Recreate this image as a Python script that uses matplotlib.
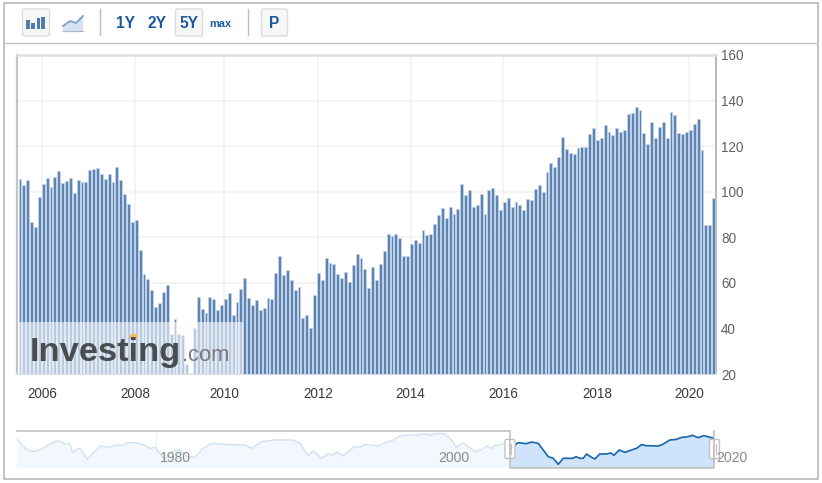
import numpy as np
import matplotlib
matplotlib.use("Agg")
import matplotlib.pyplot as plt
from matplotlib.patches import Rectangle, FancyBboxPatch, Ellipse, Polygon

plt.rcParams['font.family'] = ['Liberation Sans', 'DejaVu Sans']

values = [105.4, 102.8, 105, 86.8, 84.6, 97.8, 103.2, 106, 102.2, 106.6, 109.2, 103.8, 104.9, 106, 99.4, 105,
          104.4, 104.4, 109.6, 109.8, 110.6, 107.8, 105.4, 107.8, 104.4, 111, 105, 99, 94.6, 86.8, 87.4, 74.4,
          63.8, 61.5, 56.7, 49.5, 51.3, 56.1, 58.9, 37.5, 44, 37.5, 37, 24.4, 20, 40.3,
          53.9, 48.4, 46.9, 53.9, 52.9, 48, 50.3, 52.9, 55.7, 45.9, 51.7, 57.3, 62.3, 53.5,
          50.3, 52.3, 47.9, 49.1, 53.5, 52.9, 64.5, 71.6, 63.3, 65.5, 61.1, 56.7, 58.3, 44.7, 45.8, 40.3, 54.5,
          64.5, 61.1, 71, 68.8, 68.1, 63.9, 62.3, 64.9, 60.5, 67.7,
          72.7, 71, 66.1, 57.9, 67.1, 61.1, 68.3, 73.8, 81.4, 80.4,
          81.4, 79.8, 71.6, 71.6, 77, 78.6, 77.6, 83, 80.9, 81.4,
          85.8, 89.6, 93, 88.6, 93.4, 90.2, 92.4, 103.2, 98.4, 100.6, 93.4, 94,
          98.8, 90.2, 100.7, 101.7, 98.4, 91.8, 95.6, 97.2,
          93.4, 95.6, 94, 91.8, 96.8, 96.2, 101.2, 102.8, 100, 108.8,
          112.6, 111, 115.4, 124.1, 118.6, 117, 116.5, 119.2, 119.7, 119.7,
          125.3, 128, 122.5, 123.5, 129.1, 126.3, 124.7, 128, 126.3, 127.3,
          134.1, 134.5, 137.3, 135.7, 125.7, 120.9, 130.7, 123.5, 128.5, 130.7,
          123.5, 135.1, 133.5, 125.7, 125.3, 126.3, 127.3, 129.7, 131.9, 118.2, 85.2, 85.2, 97.2]
year_labels = ['2006', '2008', '2010', '2012', '2014', '2016', '2018', '2020']
year_ticks = [5.68, 29.68, 52.65, 76.9, 100.8, 124.6, 148.9, 172.6]
y_ticks = [20, 40, 60, 80, 100, 120, 140, 160]

nav_years = [1970.06, 1970.49, 1970.97, 1971.32, 1971.8, 1972.4, 1973.0, 1973.48, 1973.84, 1974.03, 1974.44, 1974.68,
             1975.08, 1975.63, 1976.07, 1976.71, 1977.07, 1977.55, 1978.03, 1978.63, 1979.23, 1979.59, 1979.95,
             1980.31, 1980.67, 1981.26, 1981.74, 1982.22, 1982.82, 1983.42, 1984.02, 1984.62, 1985.57, 1986.41,
             1986.89, 1987.61, 1988.45, 1989.89, 1990.37, 1990.96, 1991.32, 1991.92, 1992.4, 1992.76, 1993.0,
             1993.48, 1994.2, 1994.79, 1995.03, 1996.0, 1996.35, 1997.07, 1997.55, 1998.27, 1998.87, 1999.23,
             1999.83, 2000.31, 2000.78, 2001.26, 2001.62, 2002.1, 2002.46, 2002.94, 2003.42, 2003.78, 2004.14,
             2004.38, 2004.74, 2005.1, 2005.46, 2005.81, 2006.05, 2006.65, 2007.01, 2007.49, 2007.85, 2008.21,
             2008.57, 2008.93, 2009.29, 2009.65, 2010.0, 2010.2, 2010.48, 2010.72, 2010.96, 2011.32, 2011.56,
             2011.92, 2012.4, 2012.71, 2012.93, 2013.31, 2013.72, 2014.2, 2014.56, 2014.91, 2015.27, 2016.11,
             2016.35, 2016.95, 2017.43, 2017.79, 2018.15, 2018.58, 2018.98, 2019.39, 2019.94]
nav_values = [120.1, 91.5, 73.4, 73.4, 81.2, 102, 115, 102, 102, 68.2, 85.1, 78.6,
              42.2, 72.1, 94.1, 89, 96.7, 96.7, 107.1, 107.1, 96.7, 85.1, 89,
              65.6, 42.2, 76, 78.6, 52.6, 50, 85.1, 104.5, 102, 99.3, 98,
              85.1, 111, 117.5, 117.5, 104.5, 56.5, 76, 46.1, 63, 59.1, 70.8,
              55.2, 89, 91.5, 100.6, 94.1, 104.5, 117.5, 133, 138, 137, 141,
              137, 143.5, 141, 117.5, 89, 107.1, 91.5, 72.1, 78.6, 94.1, 85.1,
              98, 98, 107.1, 107.1, 98, 107.1, 103.2, 109.7, 104.5, 78.6, 52.6,
              46.1, 22.7, 46.1, 46.1, 46.1, 52.6, 46.1, 46.1, 63, 50, 43.5,
              63, 63, 66.9, 57.8, 78.6, 69.5, 78.6, 85.1, 99.3, 95.4, 94.1,
              98, 117.5, 120.1, 127.9, 129.2, 135.7, 126.6, 134.4, 126.6]
nav_tick_years = [1980, 2000, 2020]
nav_sel_start = 2005.46

W, H = 822, 483
fig = plt.figure(figsize=(W / 100, H / 100), dpi=100, facecolor='white')


def pxbox(x0, y0, x1, y1):
    return [x0 / W, 1 - y1 / H, (x1 - x0) / W, (y1 - y0) / H]


def pt(px):
    return px * 0.72


# main chart -------------------------------------------------------------
PL, PR, PT, PB = 17, 715.5, 55, 374
step = 3.875
ax = fig.add_axes(pxbox(PL, PT, PR, PB), zorder=1)
ax.set_xlim((PL - 20) / step, (PR - 20) / step)
ax.set_ylim(20, 160)
ax.bar(np.arange(len(values)), np.array(values) - 20, bottom=20, width=0.76, color='#5c85b3',
       edgecolor='#c6d4e7', linewidth=0.55, zorder=3)
ax.set_axisbelow(True)
ax.grid(True, color='#f1f1f1', linewidth=1.1)
ax.yaxis.tick_right()
ax.set_yticks(y_ticks)
ax.set_xticks(year_ticks)
ax.set_xticklabels(year_labels)
ax.tick_params(axis='both', length=0)
ax.tick_params(axis='x', labelsize=pt(13.5), labelcolor='#3a3a3a', pad=pt(13))
ax.tick_params(axis='y', labelsize=pt(13.5), labelcolor='#606060', pad=pt(5.5))
for name, col, lw in [('left', '#c4c4c4', 1.6), ('top', '#dedede', 1.8), ('right', '#adadad', 1.2), ('bottom', '#d6deea', 1.4)]:
    ax.spines[name].set_color(col)
    ax.spines[name].set_linewidth(lw)

# navigator --------------------------------------------------------------
NL, NR, NT, NB = 17, 714, 430, 467.5
nx = fig.add_axes(pxbox(NL, NT, NR, NB), zorder=1)
nx.set_xlim(1970.04, 2020.12)
nx.set_ylim(24 + (464 - NB) / 0.2566, 24 + (464 - NT) / 0.2566)
ny = np.array(nav_years)
nv = np.array(nav_values)
bot = nx.get_ylim()[0]
nx.fill_between(ny, nv, bot, color='#f3f8fe', linewidth=0)
nx.plot(ny, nv, color='#cfe1f1', lw=1.0)
mask = ny >= nav_sel_start
nx.fill_between(ny[mask], nv[mask], bot, color='#cfe3fb', linewidth=0)
nx.fill_between([ny[-1], 2020.12], [nv[-1], nv[-1] - 2], bot, color='#cfe3fb', linewidth=0)
nx.plot(list(ny[mask]) + [2020.12], list(nv[mask]) + [nv[-1] - 2], color='#1a66b0', lw=1.2)
for yr in nav_tick_years:
    nx.axvline(yr, color='#efefef', lw=0.8, zorder=0)
nx.axis('off')

# overlay in pixel coordinates -------------------------------------------
ov = fig.add_axes([0, 0, 1, 1], zorder=3)
ov.set_xlim(0, W)
ov.set_ylim(H, 0)
ov.axis('off')

# outer frame and toolbar line
ov.add_patch(Rectangle((3.5, 2.5), 814, 476.5, fill=False, ec='#b2b2b2', lw=1.1))
ov.plot([4, 817], [42.5, 42.5], color='#c4c4c4', lw=1)
for x in (99.5, 247.5):
    ov.plot([x, x], [9, 35], color='#bdbdbd', lw=1)

# buttons
for x0, x1 in [(22.5, 49.5), (175.5, 202.5), (261.5, 287.5)]:
    ov.add_patch(FancyBboxPatch((x0 + 2, 11), x1 - x0 - 4, 23, boxstyle='round,pad=2',
                                fc='#f7f7f7', ec='#dcdcdc', lw=1))

# bar icon
for x0, x1, top in [(26, 30, 20), (31, 35, 22.7), (36.5, 40, 18.3), (41, 45, 16.7)]:
    ov.add_patch(Rectangle((x0, top), x1 - x0, 29 - top, fc='#4f7db1', ec='none'))
# line icon
ov.add_patch(Polygon([(63, 26), (70, 21), (76, 23), (83, 16), (83, 31), (63, 31)], fc='#d9e2ef', ec='none'))
ov.plot([63, 70, 76, 83], [26, 21, 23, 16], color='#7d9fc9', lw=1.3)
ov.plot([63, 83], [31, 31], color='#aab9cf', lw=0.9)

blue = '#1e5a9e'
for s, x in [('1Y', 125.5), ('2Y', 157), ('5Y', 189), ('P', 274.5)]:
    ov.text(x, 23, s, ha='center', va='center', fontsize=pt(15.5), color=blue, fontweight='bold')
ov.text(220.5, 24, 'max', ha='center', va='center', fontsize=pt(11), color=blue, fontweight='bold')

# watermark
ov.add_patch(Rectangle((17.8, 321.5), 225.5, 52, fc='white', ec='none', alpha=0.58))
ov.text(29.5, 361, 'Investing', ha='left', va='baseline', fontsize=pt(34.5), color='#4a4d50', fontweight='bold')
ov.text(182, 361, '.com', ha='left', va='baseline', fontsize=pt(22), color='#77797c')
ov.add_patch(Ellipse((133.5, 336.5), 7.5, 6, angle=-20, fc='#f4c04e', ec='none'))

# navigator frame
ov.plot([17, 510, 510, 714, 714], [430.5, 430.5, 468, 468, 430.5], color='#bcbcbc', lw=1.1)
for cx in (510, 714.5):
    ov.add_patch(FancyBboxPatch((cx - 3.5, 441), 7, 16, boxstyle='round,pad=1.5', fc='white', ec='#c2c2c2', lw=1))
    for dx in (-1.3, 1.3):
        ov.plot([cx + dx, cx + dx], [444, 454], color='#c4c4c4', lw=0.9)
for yr in nav_tick_years:
    ov.text(155.7 + (yr - 1980) * 13.92 + 19.5, 458, str(yr), ha='center', va='center',
            fontsize=pt(14), color='#8a8a8a')

fig.savefig('out.png', dpi=100)
